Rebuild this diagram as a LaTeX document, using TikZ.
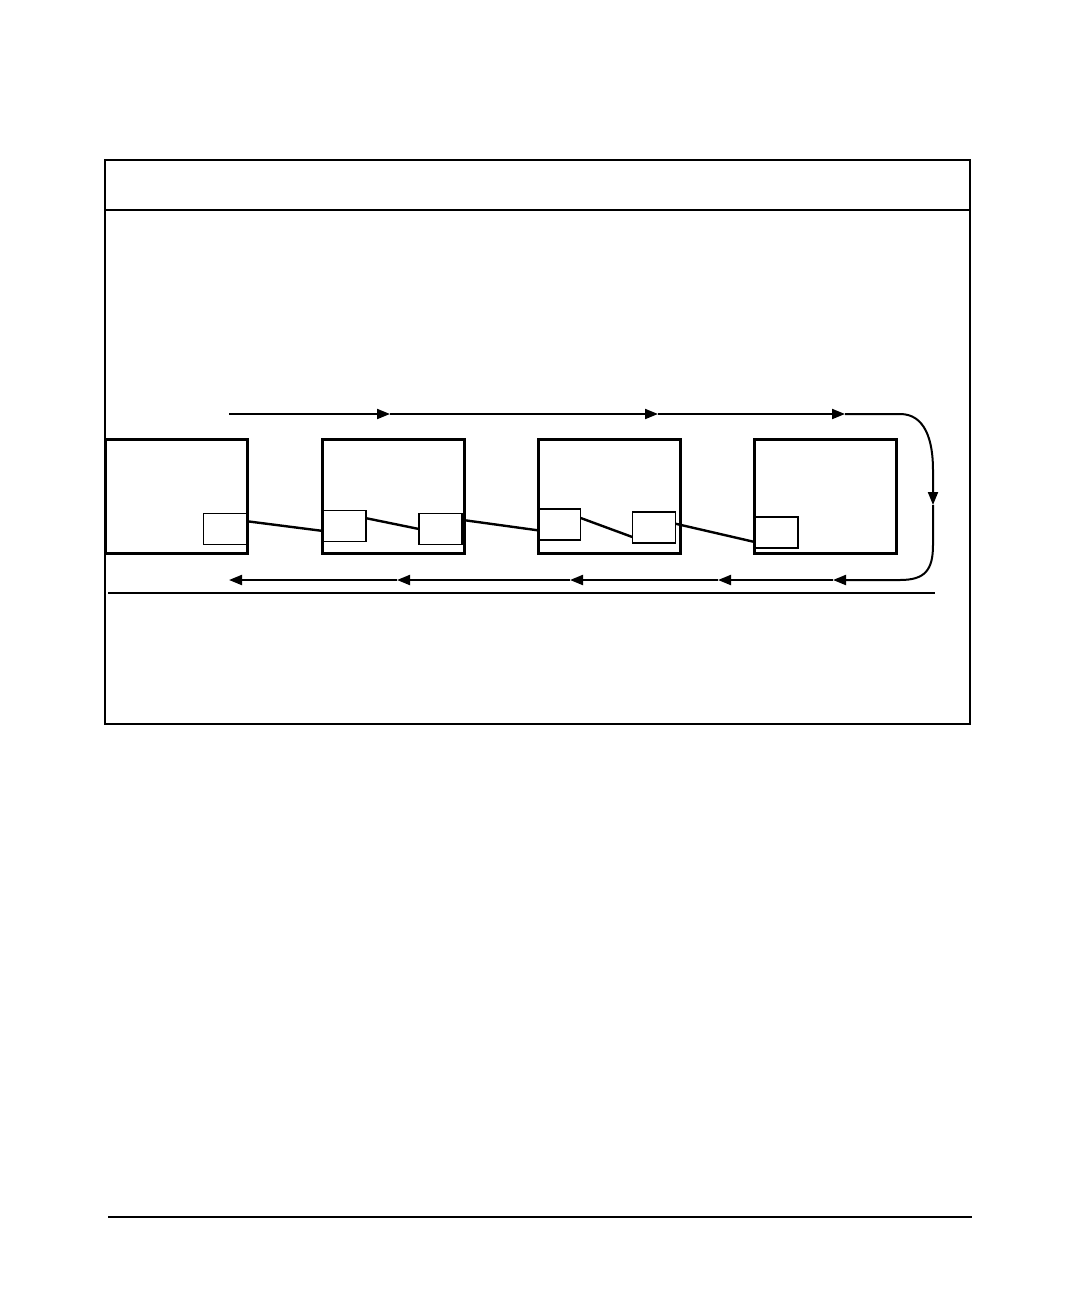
\documentclass[tikz,border=0pt]{standalone}
\usetikzlibrary{arrows.meta,positioning}

\tikzset{
  bigbox/.style={draw,line width=1.5pt,inner sep=0pt,outer sep=0pt,minimum width=71pt,minimum height=57pt},
  smallbox/.style={draw,line width=0.6pt,inner sep=0pt,outer sep=0pt,minimum width=21.5pt,minimum height=15.5pt},
  link/.style={line width=1.2pt},
  flow/.style={line width=1pt,-{Triangle[length=6.5pt,width=5pt]}}
}

\begin{document}
\begin{tikzpicture}[x=0.5pt,y=-0.5pt]
    \useasboundingbox (0,0) rectangle (1080,1296);
    \begin{scope}[line width=0.75pt]
    \draw (105,160) rectangle (970,724);
    \draw (105,210) -- (970,210);
    \draw (108,593) -- (935,593);
    \end{scope}
    \draw [line width=1pt] (108,1217) -- (972,1217);

    \node [bigbox] (b1) at (176,496) {};
    \node [bigbox, right=37.5pt of b1] (b2) {};
    \node [bigbox, right=37pt of b2] (b3) {};
    \node [bigbox, right=37pt of b3] (b4) {};

    \node [smallbox] (s1)  at (225,529) {};
    \node [smallbox] (s2l) at (344.5,526) {};
    \node [smallbox] (s2r) at (440.5,529) {};
    \node [smallbox] (s3l) at (559,524.5) {};
    \node [smallbox] (s3r) at (654,527.5) {};
    \node [smallbox] (s4)  at (776.5,532.5) {};

    \draw [link] (s1.20) -- (s2l.193);
    \draw [link] (s2l.20) -- (s2r.west);
    \draw [link] (s2r.23) -- (s3l.195);
    \draw [link] (s3l.17) -- (s3r.204);
    \draw [link] (s3r.10) -- (s4.204);

    \coordinate (in)  at (229,414);
    \coordinate (t1)  at (390,414);
    \coordinate (t2)  at (658,414);
    \coordinate (t3)  at (845,414);
    \coordinate (r1)  at (933,505);
    \coordinate (u1)  at (833,580);
    \coordinate (u2)  at (718,580);
    \coordinate (u3)  at (570,580);
    \coordinate (u4)  at (397,580);
    \coordinate (out) at (229,580);

    \draw [flow] (in) -- (t1);
    \draw [flow] (t1) -- (t2);
    \draw [flow] (t2) -- (t3);
    \draw [flow] (t3) -- (900,414) .. controls (925,414) and (933,440) .. (933,470) -- (r1);
    \draw [flow] (r1) -- (933,545) .. controls (933,570) and (925,580) .. (900,580) -- (u1);
    \draw [flow] (u1) -- (u2);
    \draw [flow] (u2) -- (u3);
    \draw [flow] (u3) -- (u4);
    \draw [flow] (u4) -- (out);
\end{tikzpicture}
\end{document}
